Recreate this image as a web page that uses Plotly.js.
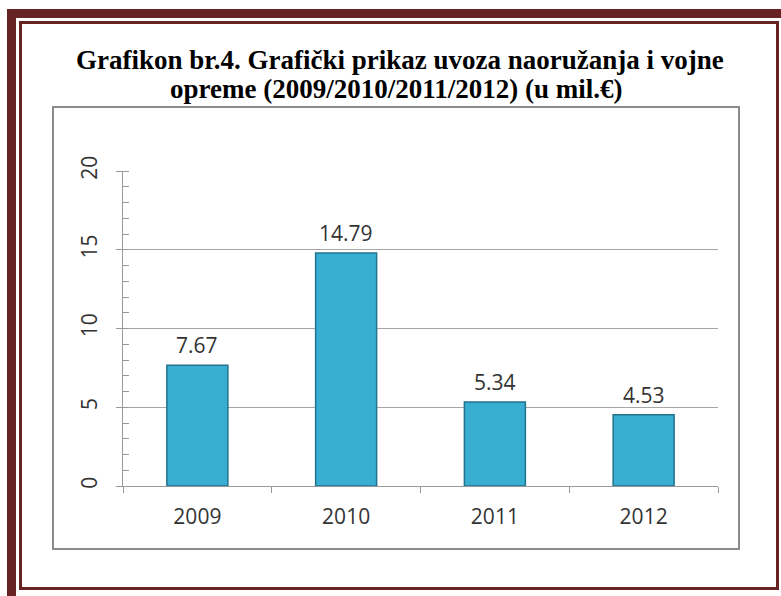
<!DOCTYPE html>
<html>
<head>
<meta charset="utf-8">
<script src="https://cdn.plot.ly/plotly-3.0.1.min.js"></script>
<style>
html,body{margin:0;padding:0;background:#fff;}
#wrap{position:relative;width:781px;height:596px;overflow:hidden;}
#chart{position:absolute;left:0;top:0;width:781px;height:596px;}
.frame{position:absolute;box-sizing:border-box;pointer-events:none;}
</style>
</head>
<body>
<div id="wrap">
<div id="chart"></div>
<div class="frame" style="left:7px;top:9px;width:790px;height:600px;border:9px solid #672222;"></div>
<div class="frame" style="left:19px;top:21px;width:760px;height:569px;border:3px solid #672222;"></div>
<div class="frame" style="left:52px;top:106px;width:688px;height:444px;border:2px solid #8c8c8c;"></div>
</div>
<script>
const years = ['2009', '2010', '2011', '2012'];
const imports = [7.67, 14.79, 5.34, 4.53];
const valueLabels = ['7.67', '14.79', '5.34', '4.53'];
const yTicks = [0, 5, 10, 15, 20];
const titleLines = [
  'Grafikon br.4. Grafički prikaz uvoza naoružanja i vojne',
  'opreme (2009/2010/2011/2012) (u mil.€)'
];

const W = 781, H = 596;
const M = {l: 123, r: 63, t: 171, b: 110};
const plotH = H - M.t - M.b;
const plotW = W - M.l - M.r;
const px2x = px => (px - M.l) / plotW;
const px2y = py => (H - M.b - py) / plotH;

const labelFont = {family: 'Open Sans, Liberation Sans, sans-serif', size: 21, color: '#333333'};
const titleFont = {family: 'Liberation Serif, Times New Roman, serif', size: 27, color: '#000'};

const trace = {
  type: 'bar',
  x: years,
  y: imports,
  cliponaxis: false,
  marker: {color: '#37aed2', line: {color: '#23738c', width: 1.5}},
  hoverinfo: 'none'
};

// value labels placed at each category index (category axis positions)
const valueAnnotations = years.map((yr, i) => ({
  x: i, y: imports[i], xref: 'x', yref: 'y',
  text: valueLabels[i], showarrow: false,
  xanchor: 'center', yanchor: 'bottom', yshift: 4,
  font: labelFont
}));

const layout = {
  width: W, height: H,
  margin: M,
  paper_bgcolor: 'rgba(0,0,0,0)',
  plot_bgcolor: 'rgba(0,0,0,0)',
  showlegend: false,
  bargap: 0.59,
  annotations: [
    {text: '<b>' + titleLines[0] + '</b>', xref: 'paper', yref: 'paper',
     x: px2x(400), y: px2y(60), xanchor: 'center', yanchor: 'middle',
     showarrow: false, font: titleFont},
    {text: '<b>' + titleLines[1] + '</b>', xref: 'paper', yref: 'paper',
     x: px2x(396), y: px2y(89), xanchor: 'center', yanchor: 'middle',
     showarrow: false, font: titleFont}
  ].concat(valueAnnotations),
  xaxis: {
    type: 'category',
    categoryarray: years, categoryorder: 'array',
    range: [-0.5, years.length - 0.5],
    autorange: false,
    tickangle: 0,
    showline: true, linecolor: '#999', linewidth: 1,
    ticks: 'outside', tickson: 'boundaries', ticklen: 6, tickcolor: '#999',
    ticklabelstandoff: 12,
    tickfont: labelFont,
    showgrid: false, zeroline: false, fixedrange: true
  },
  yaxis: {
    range: [0, 20],
    autorange: false,
    tickvals: yTicks,
    ticktext: yTicks.map(String),
    tickangle: -90,
    showline: true, linecolor: '#999', linewidth: 1,
    ticks: 'outside', ticklen: 6, tickcolor: '#999',
    ticklabelstandoff: 11,
    minor: {ticks: 'inside', dtick: 1, ticklen: 6, tickcolor: '#999', showgrid: false},
    showgrid: true, gridcolor: '#a6a6a6', gridwidth: 1,
    zeroline: false,
    tickfont: labelFont,
    fixedrange: true
  }
};

Plotly.newPlot('chart', [trace], layout, {displayModeBar: false, staticPlot: true});
</script>
</body>
</html>
